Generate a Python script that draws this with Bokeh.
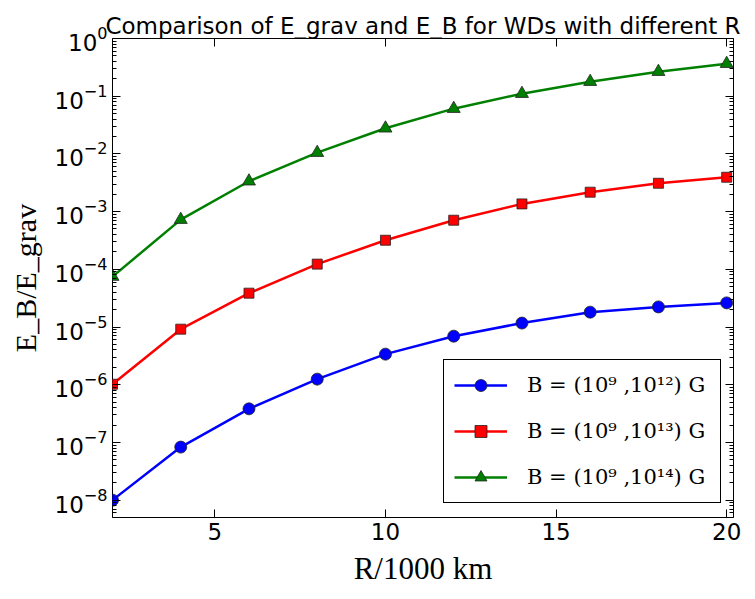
from bokeh.plotting import figure
from bokeh.models import (Range1d, FixedTicker, LinearAxis,
                          Legend, LegendItem, CustomJSTickFormatter)
from bokeh.embed import file_html
from bokeh.resources import INLINE

# ---- data ----
R = [2, 4, 6, 8, 10, 12, 14, 16, 18, 20]
ratio_B12 = [1.0e-8, 8.3e-8, 3.82e-7, 1.25e-6, 3.39e-6, 6.94e-6, 1.17e-5, 1.81e-5, 2.23e-5, 2.62e-5]
ratio_B13 = [1.02e-6, 9.18e-6, 3.86e-5, 1.23e-4, 3.19e-4, 7.09e-4, 1.36e-3, 2.17e-3, 3.10e-3, 3.94e-3]
ratio_B14 = [7.48e-5, 7.26e-4, 3.36e-3, 1.05e-2, 2.78e-2, 6.08e-2, 0.1106, 0.1786, 0.266, 0.366]
series_labels = ["B = (10\u2079 ,10\u00b9\u00b2) G",
                 "B = (10\u2079 ,10\u00b9\u00b3) G",
                 "B = (10\u2079 ,10\u00b9\u2074) G"]
x_ticks = [5, 10, 15, 20]
y_ticks = [1e-8, 1e-7, 1e-6, 1e-5, 1e-4, 1e-3, 1e-2, 1e-1, 1e0]
title_text = "Comparison of E_grav and E_B for WDs with different R"
x_title = "R/1000 km"
y_title = "E_B/E_grav"

X0, X1 = 2, 20.2
Y0, Y1 = 5e-9, 1.0

y_minor = [k * 10.0 ** n for n in range(-9, 0) for k in range(2, 10)]

p = figure(width=745, height=595, x_range=Range1d(X0, X1), y_range=Range1d(Y0, Y1),
           y_axis_type="log", output_backend="svg", toolbar_location=None,
           min_border_left=112, min_border_right=12, min_border_top=38,
           min_border_bottom=78)
p.grid.visible = False
p.outline_line_color = "black"
p.outline_line_alpha = 1
p.outline_line_width = 1
p.background_fill_color = "white"
p.border_fill_color = "white"

xt = FixedTicker(ticks=x_ticks, minor_ticks=[])
yt = FixedTicker(ticks=y_ticks, minor_ticks=y_minor)

TICK_FONT = "DejaVu Sans"
SERIF = "Liberation Serif"


def style_axis(ax):
    ax.axis_line_color = None
    ax.major_tick_in = 8
    ax.major_tick_out = 0
    ax.minor_tick_in = 4
    ax.minor_tick_out = 0
    ax.major_tick_line_color = "black"
    ax.minor_tick_line_color = "black"
    ax.major_label_text_font = TICK_FONT
    ax.major_label_text_color = "black"
    ax.major_label_text_font_size = "23px"
    ax.major_label_standoff = 5
    ax.axis_label_text_color = "black"
    ax.axis_label_text_font_style = "normal"


p.xaxis.ticker = xt
p.yaxis.ticker = yt
for ax in p.xaxis:
    style_axis(ax)
    ax.axis_label = x_title
    ax.axis_label_text_font = SERIF
    ax.axis_label_text_font_size = "31px"
    ax.axis_label_standoff = 8
for ax in p.yaxis:
    style_axis(ax)
    ax.axis_label = y_title
    ax.axis_label_text_font = SERIF
    ax.axis_label_text_font_size = "30px"
    ax.axis_label_standoff = 10

# mirrored ticks on the top (carrying the title) and right edges
top_ax = LinearAxis(ticker=xt, formatter=CustomJSTickFormatter(code="return '';"))
style_axis(top_ax)
top_ax.major_label_standoff = 0
top_ax.axis_label = title_text
top_ax.axis_label_text_font = "DejaVu Sans"
top_ax.axis_label_text_font_size = "23px"
top_ax.axis_label_standoff = 0
p.add_layout(top_ax, "above")

right_ax = LinearAxis(ticker=yt, formatter=CustomJSTickFormatter(code="return '';"))
style_axis(right_ax)
right_ax.major_label_standoff = 0
p.add_layout(right_ax, "right")

colors = ["#0000ff", "#ff0000", "#008000"]
markers = ["circle", "square", "triangle"]
sizes = [12, 10, 13]
items = []
for ys, c, m, s, lab in zip([ratio_B12, ratio_B13, ratio_B14], colors, markers, sizes, series_labels):
    lr = p.line(R, ys, line_color=c, line_width=2.5)
    sr = p.scatter(R, ys, marker=m, size=s, fill_color=c, line_color="#222222", line_width=0.8)
    items.append(LegendItem(label=lab, renderers=[lr, sr]))

legend = Legend(items=items, location=(331, 14), padding=10, spacing=16,
                glyph_height=30, glyph_width=53, label_height=30, label_width=183,
                label_standoff=20, margin=0, border_line_color="black",
                border_line_width=1, border_line_alpha=1,
                label_text_font="DejaVu Serif", label_text_font_size="21px",
                label_text_color="black", background_fill_alpha=1)
p.add_layout(legend)

open("out.html", "w").write(file_html(p, INLINE))
